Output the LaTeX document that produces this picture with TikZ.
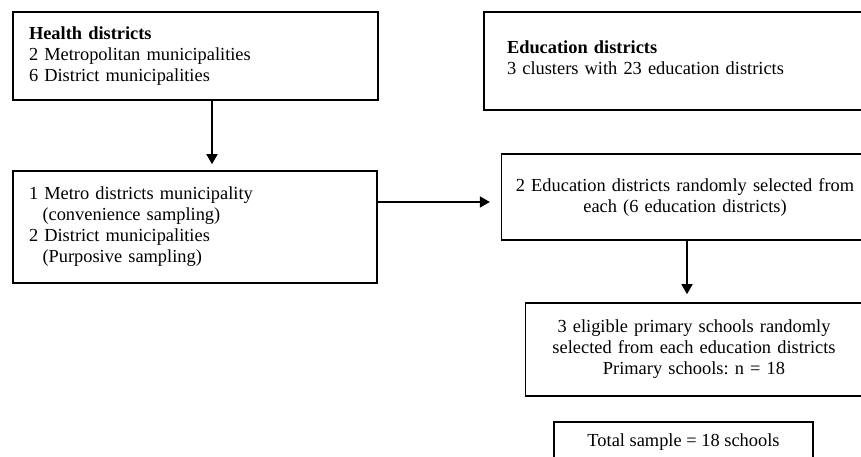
\documentclass[tikz,border=0pt]{standalone}
\usepackage{fontspec}
\setmainfont{Liberation Serif}
\frenchspacing
\usetikzlibrary{arrows.meta}
\begin{document}
\begin{tikzpicture}[x=1pt, y=-1pt,
    box/.style={draw, line width=1.6pt, inner ysep=0pt, font=\fontsize{18.4}{21}\selectfont},
    leftbox/.style={box, align=left, inner xsep=16pt},
    midbox/.style={box, align=center},
    arr/.style={line width=1.6pt, -{Triangle[length=10pt, width=11pt]}}]
    \clip (0,0) rectangle (861,457);
    \node[leftbox, text width=333pt, minimum height=88pt] (health) at (195.5,56)
        {\textbf{Health districts}\\2 Metropolitan municipalities\\6 District municipalities};
    \node[leftbox, text width=332pt, minimum height=112pt] (metro) at (195,227)
        {1 Metro districts municipality\\\hspace*{13.5pt}(convenience sampling)\\2 District municipalities\\\hspace*{13.5pt}(Purposive sampling)};
    \node[leftbox, inner xsep=23pt, text width=344pt, minimum height=98pt] (edu) at (679,61)
        {\textbf{Education districts}\\3 clusters with 23 education districts\\[-14pt]\mbox{}};
    \node[midbox, text width=360pt, minimum height=86pt] (edusel) at (685,197)
        {2 Education districts randomly selected from\\each (6 education districts)};
    \node[midbox, text width=330pt, minimum height=93pt] (schools) at (694,349.5)
        {3 eligible primary schools randomly\\selected from each education districts\\Primary schools: n = 18};
    \node[midbox, minimum width=259pt, minimum height=40pt] (total) at (683.5,442)
        {Total sample = 18 schools};

    \draw[arr] ([xshift=16.5pt]health.south) -- ([xshift=17pt, yshift=6pt]metro.north);
    \draw[arr] ([yshift=25pt]metro.east) -- ([xshift=-11pt, yshift=-5pt]edusel.west);
    \draw[arr] ([xshift=2pt]edusel.south) -- ([xshift=-7pt, yshift=8pt]schools.north);
\end{tikzpicture}
\end{document}
